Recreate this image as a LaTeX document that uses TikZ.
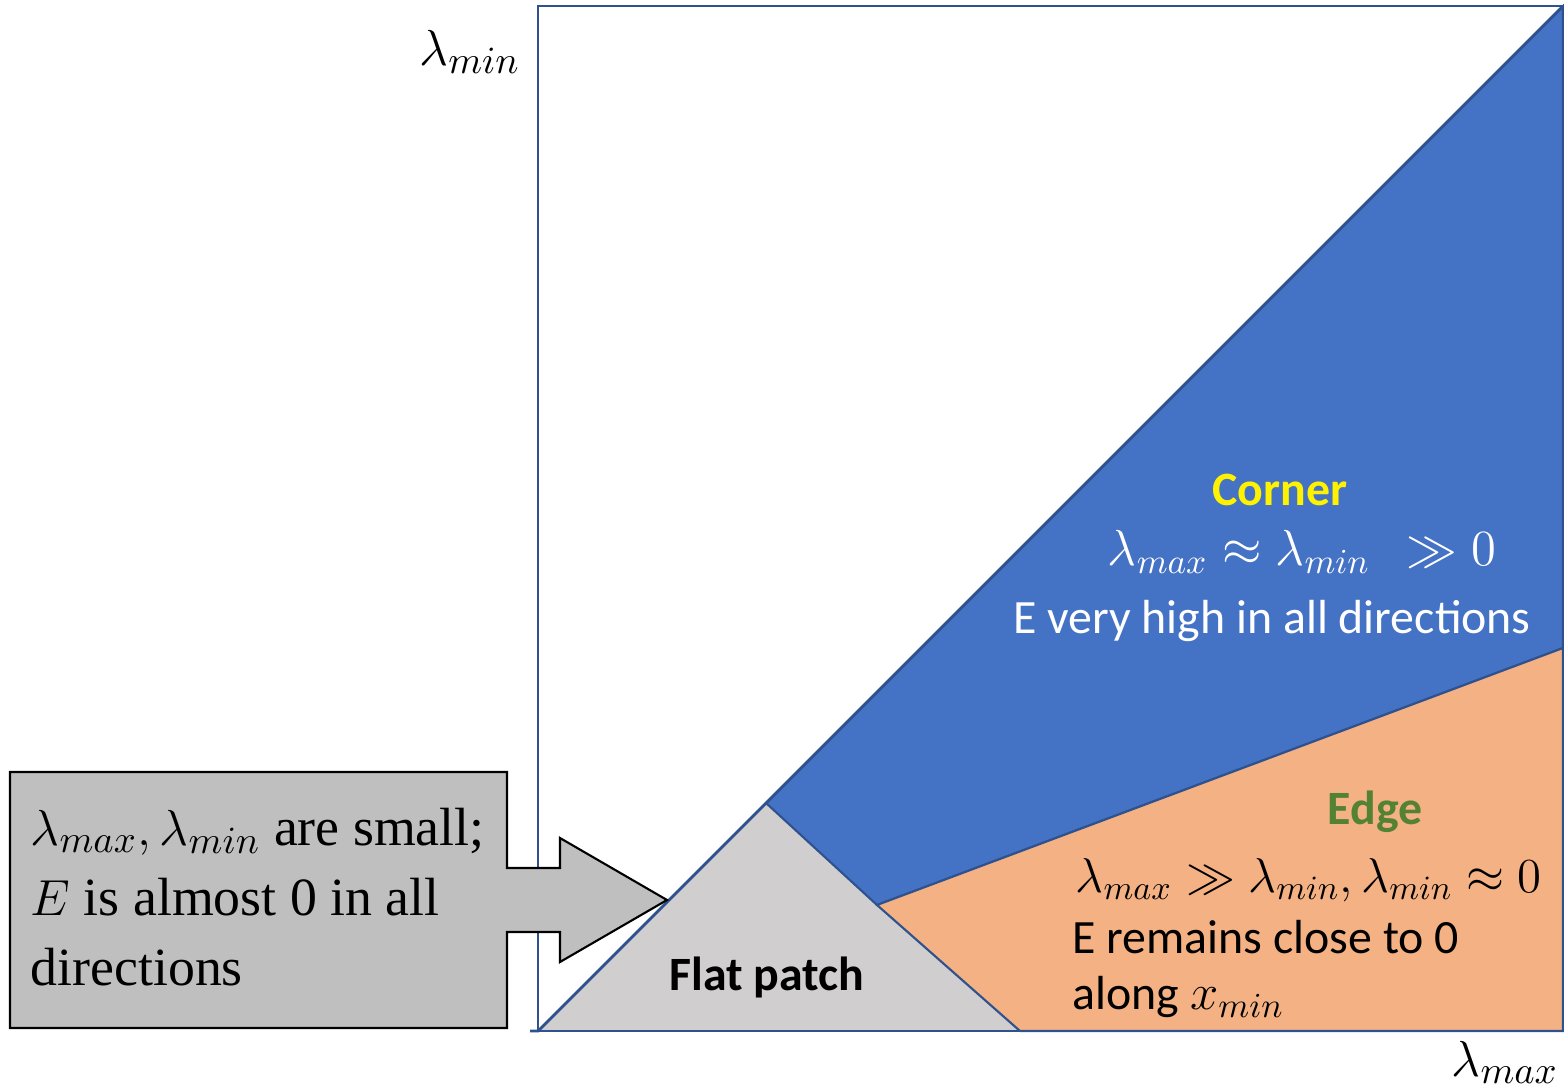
\documentclass[tikz,border=0pt]{standalone}
\usepackage{amsmath,amssymb}
\usepackage{graphicx}
\usepackage{fontspec}
\setmainfont{Carlito}
\newfontfamily\boxfont{Liberation Serif}
\usepackage{xcolor}

\definecolor{frameblue}{HTML}{2F528F}
\definecolor{cornerblue}{HTML}{4472C4}
\definecolor{edgeorange}{HTML}{F4B183}
\definecolor{flatgray}{HTML}{D0CECE}
\definecolor{calloutgray}{HTML}{BFBFBF}
\definecolor{edgegreen}{HTML}{548235}

\tikzset{
  regiontext/.style={font=\fontsize{13.6}{16}\selectfont, inner sep=0pt},
  axistext/.style={font=\fontsize{15}{18}\selectfont, inner sep=0pt}
}

\begin{document}
\begin{tikzpicture}[x=0.01cm, y=-0.01cm]

  \useasboundingbox (0,0) rectangle (1564,1091);

  % Regions
  \fill[flatgray] (538,1031) -- (766,803) -- (1020,1031) -- cycle;
  \filldraw[fill=cornerblue, draw=frameblue, line width=0.6pt] (766,803) -- (1563,6) -- (1563,648) -- (877,905) -- cycle;
  \filldraw[fill=edgeorange, draw=frameblue, line width=0.6pt] (877,905) -- (1563,648) -- (1563,1031) -- (1020,1031) -- cycle;

  % Frame and diagonal
  \draw[frameblue, line width=0.8pt] (538,6) rectangle (1563,1031);
  \draw[frameblue, line width=0.8pt] (530,1031) -- (538,1031) -- (1563,6);

  % Axis labels
  \node[axistext, anchor=base east] (ymin) at (521,66) {$\lambda_{min}$};
  \node[axistext, anchor=base] (xmax) at (1505,1076) {$\lambda_{max}$};

  % Callout
  \filldraw[fill=calloutgray, draw=black, line width=0.6pt]
    (10,772) -- (507,772) -- (507,868) -- (560,868) -- (560,838) -- (667,900)
    -- (560,962) -- (560,932) -- (507,932) -- (507,1028) -- (10,1028) -- cycle;
  \node[anchor=north west, align=left, inner sep=0pt,
        font=\boxfont\fontsize{15.3}{20}\selectfont] (flatnote) at (30,807)
    {$\lambda_{max}, \lambda_{min}$ are small;\\ $E$ is almost 0 in all\\ directions};

  % Flat patch
  \node[regiontext, font=\fontsize{13.6}{16}\selectfont\bfseries] (flat) at (767,977) {Flat patch};

  % Corner
  \node[regiontext, text=yellow, font=\fontsize{13.6}{16}\selectfont\bfseries] (corner) at (1280,490) {Corner};
  \node[regiontext, text=white, font=\fontsize{14}{18}\selectfont] (cornereq) at (1302,552) {$\lambda_{max} \approx \lambda_{min}\ \ \gg 0$};
  \node[regiontext, text=white] (cornertxt) at (1272,621) {E very high in all directions};

  % Edge
  \node[regiontext, text=edgegreen, font=\fontsize{13.6}{16}\selectfont\bfseries] (edge) at (1375,812) {Edge};
  \node[regiontext, anchor=west, font=\fontsize{14}{18}\selectfont] (edgeeq) at (1075,880) {\scalebox{0.965}{$\lambda_{max} \gg \lambda_{min}, \lambda_{min} \approx 0$}};
  \node[regiontext, anchor=west] (edgetxt) at (1072,937) {E remains close to 0};
  \node[regiontext, anchor=west] (edgetxt2) at (1072,997) {along $x_{min}$};

\end{tikzpicture}
\end{document}
